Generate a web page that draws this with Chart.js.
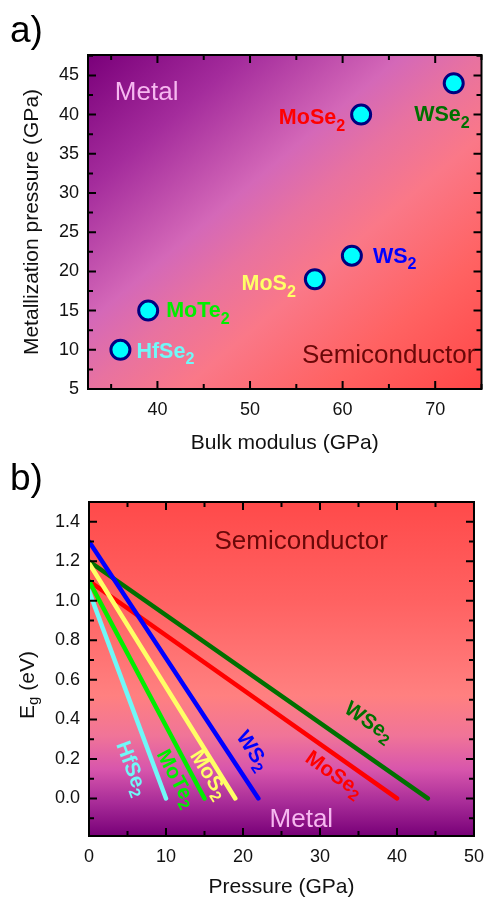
<!DOCTYPE html>
<html>
<head>
<meta charset="utf-8">
<script src="https://cdn.jsdelivr.net/npm/chart.js@4.4.1/dist/chart.umd.min.js"></script>
<style>
html, body { margin: 0; padding: 0; background: #fff; }
#wrapA { position: absolute; left: 0; top: 0; width: 494px; height: 460px; }
#wrapB { position: absolute; left: 0; top: 460px; width: 494px; height: 440px; }
</style>
</head>
<body>
<div id="wrapA"><canvas id="chartA"></canvas></div>
<div id="wrapB"><canvas id="chartB"></canvas></div>
<script>
// データ
const materials = ['HfSe2', 'MoTe2', 'MoS2', 'WS2', 'MoSe2', 'WSe2'];
const bulkModulus = [36, 39, 57, 61, 62, 72];          // GPa
const metallizationPressure = [10, 15, 19, 22, 40, 44]; // GPa
const gapAtZero = [1.05, 1.1, 1.19, 1.3, 1.1, 1.2];     // eV
const materialColors = ['#70f8f8', '#00ee00', '#ffff66', '#0000ff', '#ff0000', '#007000'];

// 目盛り
const xTicksA = [40, 50, 60, 70];
const xMinorA = [35, 45, 55, 65, 75];
const yTicksA = [5, 10, 15, 20, 25, 30, 35, 40, 45];
const yMinorA = [7.5, 12.5, 17.5, 22.5, 27.5, 32.5, 37.5, 42.5, 47.5];
const xTicksB = [0, 10, 20, 30, 40, 50];
const xMinorB = [5, 15, 25, 35, 45];
const yTicksB = [0, 0.2, 0.4, 0.6, 0.8, 1.0, 1.2, 1.4];
const yMinorB = [-0.1, 0.1, 0.3, 0.5, 0.7, 0.9, 1.1, 1.3, 1.5];

const FONT = "'Liberation Sans', Arial, sans-serif";

// ラベル配置 (a: 点からのピクセルずれ, b: データ座標)
const labelPlaceA = [
    { dx: 16, dy: 8, align: 'left' },
    { dx: 18, dy: 6.5, align: 'left' },
    { dx: -19, dy: 11, align: 'right' },
    { dx: 21, dy: 7, align: 'left' },
    { dx: -16, dy: 9.5, align: 'right' },
    { dx: 16, dy: 38, align: 'right' }
];
const labelPlaceB = [[5.5, 0.15], [11.3, 0.10], [15.5, 0.12], [21.2, 0.24], [31.8, 0.12], [36.3, 0.385]];

// 下付き文字付きテキスト
function drawSub(ctx, main, sub, x, y, align, size, weight, color) {
    const subSize = size * 0.75;
    ctx.font = `${weight} ${size}px ${FONT}`;
    const w1 = ctx.measureText(main).width;
    ctx.font = `${weight} ${subSize}px ${FONT}`;
    const w2 = ctx.measureText(sub).width;
    const total = w1 + w2;
    let sx = x;
    if (align === 'right') sx = x - total;
    if (align === 'center') sx = x - total / 2;
    ctx.fillStyle = color;
    ctx.textAlign = 'left';
    ctx.font = `${weight} ${size}px ${FONT}`;
    ctx.fillText(main, sx, y);
    ctx.font = `${weight} ${subSize}px ${FONT}`;
    ctx.fillText(sub, sx + w1, y + size * 0.3);
}

// 背景グラデーションと内向き目盛り・枠
const framePlugin = {
    id: 'frame',
    beforeDatasetsDraw(chart, args, opts) {
        const { ctx, chartArea: a } = chart;
        ctx.save();
        ctx.fillStyle = opts.fill(ctx, a);
        ctx.fillRect(a.left, a.top, a.right - a.left, a.bottom - a.top);
        ctx.restore();
    },
    afterDraw(chart, args, opts) {
        const { ctx, chartArea: a, scales } = chart;
        ctx.save();
        ctx.strokeStyle = '#000';
        ctx.lineWidth = 2;
        const tick = (vals, len, horiz) => {
            vals.forEach(v => {
                ctx.beginPath();
                if (horiz) {
                    const p = scales.x.getPixelForValue(v);
                    if (p < a.left - 1 || p > a.right + 1) return;
                    ctx.moveTo(p, a.bottom); ctx.lineTo(p, a.bottom - len);
                    ctx.moveTo(p, a.top); ctx.lineTo(p, a.top + len);
                } else {
                    const p = scales.y.getPixelForValue(v);
                    if (p < a.top - 1 || p > a.bottom + 1) return;
                    ctx.moveTo(a.left, p); ctx.lineTo(a.left + len, p);
                    ctx.moveTo(a.right, p); ctx.lineTo(a.right - len, p);
                }
                ctx.stroke();
            });
        };
        tick(opts.xMajor, 8, true);
        tick(opts.xMinor, 5, true);
        tick(opts.yMajor, 8, false);
        tick(opts.yMinor, 5, false);
        ctx.strokeRect(a.left, a.top, a.right - a.left, a.bottom - a.top);
        if (opts.extra) opts.extra(chart, ctx);
        ctx.restore();
    }
};

Chart.defaults.font.family = FONT;
Chart.defaults.animation = false;

// a) 金属化圧力 vs 体積弾性率
new Chart(document.getElementById('chartA'), {
    type: 'scatter',
    data: {
        datasets: [{
            data: bulkModulus.map((b, i) => ({ x: b, y: metallizationPressure[i] })),
            pointRadius: 9.5,
            pointBackgroundColor: '#00ffff',
            pointBorderColor: '#000080',
            pointBorderWidth: 3
        }]
    },
    options: {
        responsive: true,
        maintainAspectRatio: false,
        layout: { padding: { top: 55, right: 12, left: 0, bottom: 0 } },
        plugins: {
            legend: { display: false },
            tooltip: { enabled: false },
            frame: {
                xMajor: xTicksA, xMinor: xMinorA, yMajor: yTicksA, yMinor: yMinorA,
                fill: (ctx, a) => {
                    // 反対角線の両角が同じ色になる向き
                    const w = a.right - a.left, h = a.bottom - a.top;
                    const cx = (a.left + a.right) / 2, cy = (a.top + a.bottom) / 2;
                    const len = Math.hypot(w, h);
                    const ux = h / len, uy = w / len;
                    const k = (w / 2) * ux + (h / 2) * uy;
                    const g = ctx.createLinearGradient(cx - k * ux, cy - k * uy, cx + k * ux, cy + k * uy);
                    g.addColorStop(0, '#7a007a');
                    g.addColorStop(0.2, '#a42c9c');
                    g.addColorStop(0.4, '#d468b8');
                    g.addColorStop(0.5, '#e872a0');
                    g.addColorStop(0.62, '#fa7888');
                    g.addColorStop(0.8, '#ff6262');
                    g.addColorStop(1, '#ff4646');
                    return g;
                },
                extra: (chart, ctx) => {
                    const { x: sx, y: sy } = chart.scales;
                    const pts = chart.getDatasetMeta(0).data;
                    materials.forEach((m, i) => {
                        const p = labelPlaceA[i];
                        drawSub(ctx, m.slice(0, -1), m.slice(-1), pts[i].x + p.dx, pts[i].y + p.dy,
                            p.align, 21.5, 'bold', materialColors[i]);
                    });
                    ctx.textAlign = 'left';
                    ctx.font = `26px ${FONT}`;
                    ctx.fillStyle = '#f6b8f0';
                    ctx.fillText('Metal', sx.getPixelForValue(35.4), sy.getPixelForValue(41.9));
                    ctx.fillStyle = '#6a0808';
                    ctx.fillText('Semiconductor', sx.getPixelForValue(55.6), sy.getPixelForValue(8.3));
                    ctx.font = `37px ${FONT}`;
                    ctx.fillStyle = '#000';
                    ctx.fillText('a)', 10, 42);
                }
            }
        },
        scales: {
            x: {
                type: 'linear', min: 32.5, max: 75,
                afterFit: s => { s.height = 71; },
                afterBuildTicks: s => { s.ticks = xTicksA.map(v => ({ value: v })); },
                grid: { display: false, drawTicks: false },
                border: { display: false },
                ticks: { font: { size: 18 }, color: '#111', padding: 10, maxRotation: 0 },
                title: { display: true, text: 'Bulk modulus (GPa)', font: { size: 21 }, color: '#111', padding: { bottom: 4 } }
            },
            y: {
                type: 'linear', min: 5, max: 47.6,
                afterFit: s => { s.width = 88; },
                afterBuildTicks: s => { s.ticks = yTicksA.map(v => ({ value: v })); },
                grid: { display: false, drawTicks: false },
                border: { display: false },
                ticks: { font: { size: 18 }, color: '#111', padding: 9 },
                title: { display: true, text: 'Metallization pressure (GPa)', font: { size: 21 }, color: '#111', padding: { top: 20 } }
            }
        }
    },
    plugins: [framePlugin]
});

// b) バンドギャップ vs 圧力
new Chart(document.getElementById('chartB'), {
    type: 'scatter',
    data: {
        datasets: materials.map((m, i) => ({
            label: m,
            data: [{ x: 0, y: gapAtZero[i] }, { x: metallizationPressure[i], y: 0 }],
            showLine: true,
            borderColor: materialColors[i],
            borderWidth: 4.5,
            borderCapStyle: 'round',
            pointRadius: 0
        }))
    },
    options: {
        responsive: true,
        maintainAspectRatio: false,
        layout: { padding: { top: 42, right: 11, left: 0, bottom: 0 } },
        plugins: {
            legend: { display: false },
            tooltip: { enabled: false },
            frame: {
                xMajor: xTicksB, xMinor: xMinorB, yMajor: yTicksB, yMinor: yMinorB,
                fill: (ctx, a) => {
                    const g = ctx.createLinearGradient(0, a.top, 0, a.bottom);
                    g.addColorStop(0, '#ff4a4a');
                    g.addColorStop(0.3, '#ff6262');
                    g.addColorStop(0.58, '#ff8080');
                    g.addColorStop(0.7, '#f07498');
                    g.addColorStop(0.8, '#d856ac');
                    g.addColorStop(0.9, '#a82c98');
                    g.addColorStop(1, '#780078');
                    return g;
                },
                extra: (chart, ctx) => {
                    const { x: sx, y: sy } = chart.scales;
                    materials.forEach((m, i) => {
                        const x0 = sx.getPixelForValue(0), y0 = sy.getPixelForValue(gapAtZero[i]);
                        const x1 = sx.getPixelForValue(metallizationPressure[i]), y1 = sy.getPixelForValue(0);
                        const ang = Math.atan2(y1 - y0, x1 - x0);
                        ctx.save();
                        ctx.translate(sx.getPixelForValue(labelPlaceB[i][0]), sy.getPixelForValue(labelPlaceB[i][1]));
                        ctx.rotate(ang);
                        ctx.textBaseline = 'middle';
                        drawSub(ctx, m.slice(0, -1), m.slice(-1), 0, 0, 'center', 21, 'bold', materialColors[i]);
                        ctx.restore();
                    });
                    ctx.textAlign = 'left';
                    ctx.textBaseline = 'alphabetic';
                    ctx.font = `26px ${FONT}`;
                    ctx.fillStyle = '#6a0808';
                    ctx.fillText('Semiconductor', sx.getPixelForValue(16.3), sy.getPixelForValue(1.26));
                    ctx.fillStyle = '#f6b8f0';
                    ctx.fillText('Metal', sx.getPixelForValue(23.45), sy.getPixelForValue(-0.142));
                    // 縦軸タイトル E_g (eV)
                    ctx.save();
                    ctx.translate(28, 225);
                    ctx.rotate(-Math.PI / 2);
                    ctx.textBaseline = 'middle';
                    ctx.font = `21px ${FONT}`;
                    const wE = ctx.measureText('E').width;
                    ctx.font = `15px ${FONT}`;
                    const wg = ctx.measureText('g').width;
                    ctx.font = `21px ${FONT}`;
                    const wR = ctx.measureText(' (eV)').width;
                    const sx0 = -(wE + wg + wR) / 2;
                    ctx.fillStyle = '#111';
                    ctx.fillText('E', sx0, 0);
                    ctx.font = `15px ${FONT}`;
                    ctx.fillText('g', sx0 + wE, 6);
                    ctx.font = `21px ${FONT}`;
                    ctx.fillText(' (eV)', sx0 + wE + wg, 0);
                    ctx.restore();
                    ctx.font = `37px ${FONT}`;
                    ctx.fillStyle = '#000';
                    ctx.fillText('b)', 10, 30);
                }
            }
        },
        scales: {
            x: {
                type: 'linear', min: 0, max: 50,
                afterFit: s => { s.height = 64; },
                afterBuildTicks: s => { s.ticks = xTicksB.map(v => ({ value: v })); },
                grid: { display: false, drawTicks: false },
                border: { display: false },
                ticks: { font: { size: 18 }, color: '#111', padding: 10, maxRotation: 0 },
                title: { display: true, text: 'Pressure (GPa)', font: { size: 21 }, color: '#111', padding: { bottom: 0 } }
            },
            y: {
                type: 'linear', min: -0.19, max: 1.5,
                afterFit: s => { s.width = 89; },
                afterBuildTicks: s => { s.ticks = yTicksB.map(v => ({ value: v })); },
                grid: { display: false, drawTicks: false },
                border: { display: false },
                ticks: { font: { size: 18 }, color: '#111', padding: 9, callback: v => v.toFixed(1) }
            }
        }
    },
    plugins: [framePlugin]
});
</script>
</body>
</html>
